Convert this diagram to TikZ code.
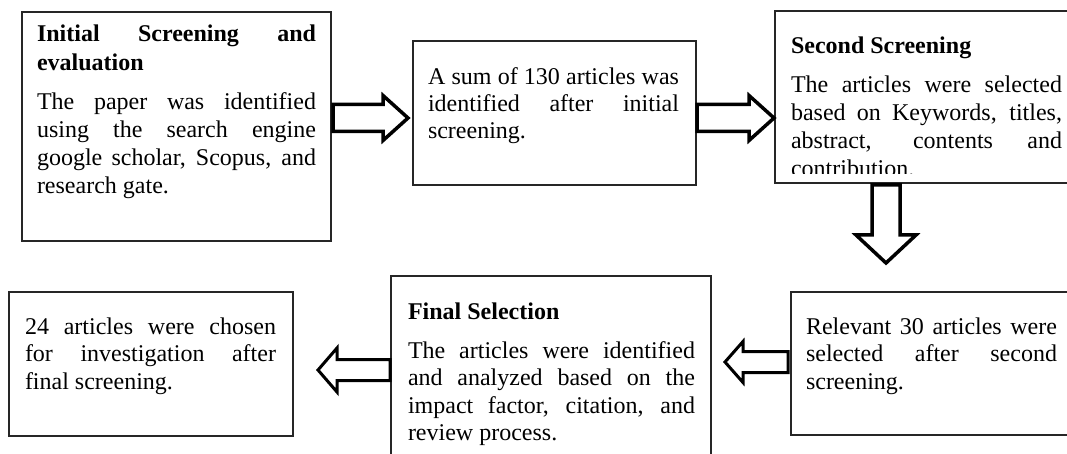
\documentclass[tikz,border=0pt]{standalone}
\usepackage{fontspec}
\setmainfont{Liberation Serif}
\usetikzlibrary{calc}
\newcommand\jl[1]{\makebox[\linewidth][s]{#1}}
\begin{document}
\begin{tikzpicture}[x=1pt,y=-1pt,
  box/.style={draw=black!85, line width=1.1pt, fill=white, inner sep=0pt, outer sep=0pt, anchor=north west},
  txt/.style={inner sep=0pt, outer sep=0pt, anchor=base west, font=\fontsize{24}{28}\selectfont},
  blockarrow/.style={draw=black, line width=3.5pt, fill=white, line join=miter},
  thinarrow/.style={blockarrow, line width=3pt}]
\useasboundingbox (0,0) rectangle (1067,454);
\clip (0,0) rectangle (1067,454);

% boxes
\node[box, minimum width=309pt, minimum height=229pt] (b1) at (22,12) {};
\node[box, minimum width=283pt, minimum height=144pt] (b2) at (413,41) {};
\node[box, minimum width=300pt, minimum height=172pt] (b3) at (775,11) {};
\node[box, minimum width=290pt, minimum height=143pt] (b4) at (791,292) {};
\node[box, minimum width=320pt, minimum height=200pt] (b5) at (391,276) {};
\node[box, minimum width=284pt, minimum height=144pt] (b6) at (9,292) {};

% arrow levels
\coordinate (ay1) at (0,118);
\coordinate (ax3) at (886,0);
\coordinate (ay4) at (0,362);
\coordinate (ay5) at (0,370);

% right arrows
\draw[blockarrow] let \p1=(b1.east), \p2=(b2.west), \p3=(ay1) in
  (\x1+2pt,\y3-13.5pt) -- (\x2-30pt,\y3-13.5pt) -- (\x2-30pt,\y3-22.5pt) -- (\x2-5pt,\y3)
  -- (\x2-30pt,\y3+22.5pt) -- (\x2-30pt,\y3+13.5pt) -- (\x1+2pt,\y3+13.5pt) -- cycle;
\draw[blockarrow] let \p1=(b2.east), \p2=(b3.west), \p3=(ay1) in
  (\x1+1pt,\y3-13.5pt) -- (\x2-26pt,\y3-13.5pt) -- (\x2-26pt,\y3-22.5pt) -- (\x2-1pt,\y3)
  -- (\x2-26pt,\y3+22.5pt) -- (\x2-26pt,\y3+13.5pt) -- (\x1+1pt,\y3+13.5pt) -- cycle;
% down arrow
\draw[blockarrow] let \p1=(b3.south), \p2=(b4.north), \p3=(ax3) in
  (\x3-14pt,\y1-2pt) -- (\x3-14pt,\y2+57pt) -- (\x3-30pt,\y2+57pt) -- (\x3,\y2+29pt)
  -- (\x3+30pt,\y2+57pt) -- (\x3+14pt,\y2+57pt) -- (\x3+14pt,\y1-2pt) -- cycle;
% left arrows
\draw[thinarrow] let \p1=(b4.west), \p2=(b5.east), \p3=(ay4) in
  (\x1-3pt,\y3-10.5pt) -- (\x2+32pt,\y3-10.5pt) -- (\x2+32pt,\y3-20.5pt) -- (\x2+14pt,\y3)
  -- (\x2+32pt,\y3+20.5pt) -- (\x2+32pt,\y3+10.5pt) -- (\x1-3pt,\y3+10.5pt) -- cycle;
\draw[thinarrow] let \p1=(b5.west), \p2=(b6.east), \p3=(ay5) in
  (\x1-1pt,\y3-10.5pt) -- (\x2+44pt,\y3-10.5pt) -- (\x2+44pt,\y3-22pt) -- (\x2+25pt,\y3)
  -- (\x2+44pt,\y3+22pt) -- (\x2+44pt,\y3+10.5pt) -- (\x1-1pt,\y3+10.5pt) -- cycle;

% texts
\node[txt] (t1h) at (37,42) {\parbox[t]{279pt}{\fontsize{24}{29}\selectfont\bfseries\jl{Initial Screening and}\\evaluation}};
\node[txt] (t1) at (37,110) {\parbox[t]{279pt}{\jl{The paper was identified}\\\jl{using the search engine}\\\jl{google scholar, Scopus, and}\\research gate.}};
\node[txt] (t2) at (428,85) {\parbox[t]{251pt}{\fontsize{24}{27}\selectfont\jl{A sum of 130 articles was}\\\jl{identified after initial}\\screening.}};
\node[txt] (t3h) at (791,54) {\textbf{Second Screening}};
\begin{scope}
\clip (775,11) rectangle (1067,174);
\node[txt] (t3) at (791,93) {\parbox[t]{271pt}{\jl{The articles were selected}\\\jl{based on Keywords, titles,}\\\jl{abstract, contents and}\\contribution.}};
\end{scope}
\node[txt] (t4) at (806,334) {\parbox[t]{251pt}{\fontsize{24}{27.5}\selectfont\jl{Relevant 30 articles were}\\\jl{selected after second}\\screening.}};
\node[txt] (t5h) at (408,319) {\textbf{Final Selection}};
\node[txt] (t5) at (408,358) {\parbox[t]{287pt}{\fontsize{24}{27.5}\selectfont\jl{The articles were identified}\\\jl{and analyzed based on the}\\\jl{impact factor, citation, and}\\review process.}};
\node[txt] (t6) at (25,334) {\parbox[t]{251pt}{\fontsize{24}{27.5}\selectfont\jl{24 articles were chosen}\\\jl{for investigation after}\\final screening.}};
\end{tikzpicture}
\end{document}
